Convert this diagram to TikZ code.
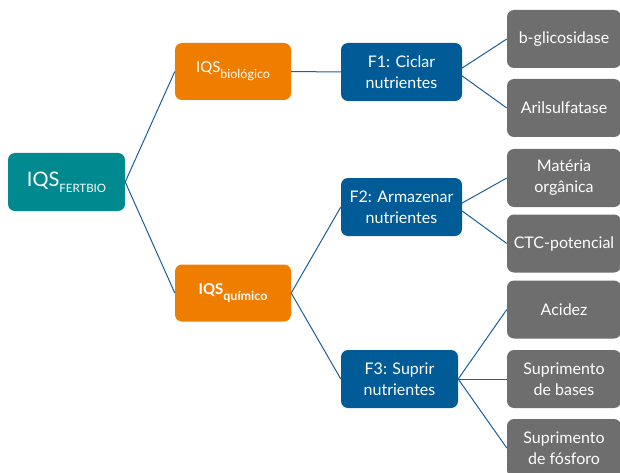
\documentclass[tikz,border=0pt]{standalone}
\usepackage{fontspec}
\setmainfont{Lato}
\usetikzlibrary{positioning}
\definecolor{iqsTeal}{HTML}{00898F}
\definecolor{iqsOrange}{HTML}{EF7D00}
\definecolor{iqsBlue}{HTML}{005B96}
\definecolor{iqsGray}{HTML}{6E6E6E}
\definecolor{iqsLine}{HTML}{1D5E98}
\newcommand{\iqsbig}[1]{{\fontsize{20}{22}\selectfont IQS}\raisebox{-6pt}{\fontsize{11.5}{14}\selectfont #1}}
\newcommand{\iqssmall}[1]{{\fontsize{15}{17}\selectfont IQS}\raisebox{-6pt}{\fontsize{12.5}{14}\selectfont #1}}

\begin{document}
\begin{tikzpicture}[
  x=1pt, y=-1pt,
  font=\fontsize{16}{21}\selectfont,
  base/.style={rounded corners=7pt, text=white, align=center, inner sep=0pt},
  root/.style={base, fill=iqsTeal, minimum width=117pt, minimum height=58pt},
  indice/.style={base, fill=iqsOrange, minimum width=116pt, minimum height=57pt},
  funcao/.style={base, fill=iqsBlue, minimum width=121pt, minimum height=58pt},
  attr/.style={base, fill=iqsGray, minimum width=114pt, minimum height=58pt},
  link/.style={draw=iqsLine, line width=1pt}
]
\useasboundingbox (0,0) rectangle (620,473);

% indices
\node[root] (fertbio) at (66.5,182) {\iqsbig{FERTBIO}};
\node[indice] (bio) at (233,71.5) {\iqssmall{biológico}};
\node[indice, font=\bfseries] (quim) at (233,293) {\iqssmall{químico}};

% funcoes
\node[funcao] (f1) at (401.5,72) {F1: Ciclar\\nutrientes};
\node[funcao] (f2) at (401.5,207) {F2: Armazenar\\nutrientes};
\node[funcao, minimum width=117pt] (f3) at (399.5,379) {F3: Suprir\\nutrientes};

% indicadores
\node[attr] (glic) at (564,39) {b-glicosidase};
\node[attr] (aril) at (564,108) {Arilsulfatase};
\node[attr] (mo) at (564,178) {Matéria\\orgânica};
\node[attr] (ctc) at (564,243.5) {CTC-potencial};
\node[attr] (acidez) at (564,309.5) {Acidez};
\node[attr] (bases) at (564,379) {Suprimento\\de bases};
\node[attr] (fosforo) at (564,448) {Suprimento\\de fósforo};

\draw[link] (fertbio.east) -- (bio.west);
\draw[link] (fertbio.east) -- (quim.west);
\draw[link] (bio.east) -- (f1.west);
\draw[link] (quim.east) -- (f2.west);
\draw[link] (quim.east) -- (f3.west);
\draw[link] ([yshift=4pt]f1.east) -- (glic.west);
\draw[link] ([yshift=-4pt]f1.east) -- (aril.west);
\draw[link] ([yshift=4pt]f2.east) -- (mo.west);
\draw[link] ([yshift=-4pt]f2.east) -- (ctc.west);
\draw[link] (f3.east) -- (acidez.west);
\draw[link] (f3.east) -- (bases.west);
\draw[link] (f3.east) -- (fosforo.west);
\end{tikzpicture}
\end{document}
